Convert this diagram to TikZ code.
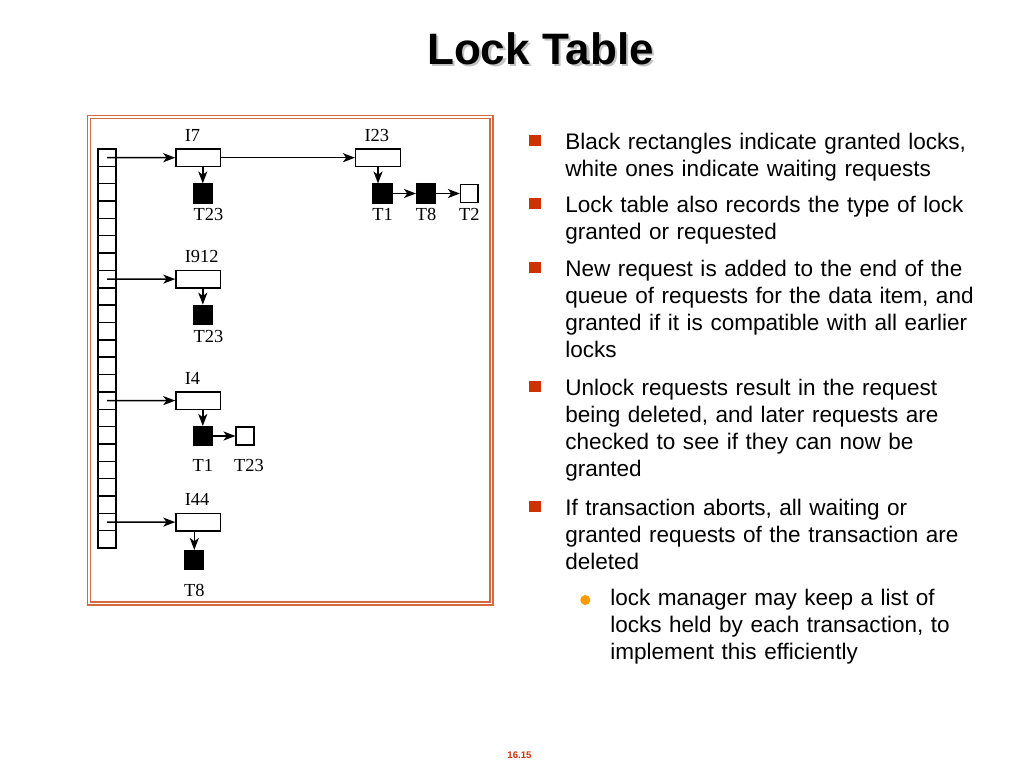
\documentclass[tikz,border=0pt]{standalone}
\usepackage{fontspec}
\setmainfont{Liberation Sans}
\newfontfamily\figserif{Liberation Serif}
\usetikzlibrary{arrows.meta, positioning}
\definecolor{framebrown}{RGB}{212,104,62}
\definecolor{bulletred}{RGB}{204,51,0}
\definecolor{suborange}{RGB}{255,153,0}
\definecolor{shadowgray}{RGB}{195,195,195}

\tikzset{
  cell/.style={draw, line width=1.1pt, minimum width=13.5pt, minimum height=13.01pt, inner sep=0pt, outer sep=0pt},
  itembox/.style={draw, line width=1.1pt, minimum width=33.5pt, minimum height=13pt, inner sep=0pt},
  granted/.style={draw, fill=black, line width=1.1pt, minimum size=14pt, inner sep=0pt},
  waiting/.style={draw, fill=white, line width=1.1pt, minimum size=13.2pt, inner sep=0pt},
  lbl/.style={font=\figserif\fontsize{13.8pt}{15pt}\selectfont, inner sep=0pt, text height=9pt, text depth=0pt},
  ptr/.style={line width=1.1pt, -{Stealth[length=9pt,width=6.8pt,inset=2.5pt]}},
  bullettext/.style={anchor=base west, inner sep=0pt, text width=330pt, align=left, font=\fontsize{16.9pt}{20.25pt}\selectfont},
  sqbullet/.style={fill=bulletred, minimum size=8.3pt, inner sep=0pt},
  dotbullet/.style={circle, fill=suborange, minimum size=7.5pt, inner sep=0pt},
  titlefont/.style={font=\fontsize{33pt}{40pt}\bfseries\selectfont, anchor=base, inner sep=0pt}
}

\begin{document}
\begin{tikzpicture}[x=0.75pt, y=-0.75pt]
  \useasboundingbox (0,0) rectangle (1024,768);
  % title with its shadow
  \node[titlefont, text=shadowgray] (titleshadow) at (543,66.5) {Lock Table};
  \node[titlefont] (title) at (540.5,64) {Lock Table};
  % frame round the figure
  \draw[framebrown, line width=1.3pt] (87.5,115.5) rectangle (493,605);
  \draw[framebrown, line width=1pt] (90.7,118.7) rectangle (490,602);
  % hash column
  \foreach \k in {0,...,22}
    \node[cell] (c\k) at (107, {149+(\k+0.5)*17.35}) {};
  % data items
  \node[itembox] (i7) at (198.3,157.7) {};
  \node[itembox] (i23) at (378,157.7) {};
  \node[itembox] (i912) at (198.3,279.1) {};
  \node[itembox] (i4) at (198.3,400.6) {};
  \node[itembox] (i44) at (198.3,522.1) {};
  \foreach \n/\t in {i7/I7, i23/I23, i912/I912, i4/I4, i44/I44}
    \node[lbl, above right=5pt and 7pt of \n.north west] (\n-lbl) {\t};
  % lock requests
  \node[granted] (g7) at (202.8,193.5) {};
  \node[granted] (g23a) at (382.5,193.5) {};
  \node[granted] (g23b) at (426,193.5) {};
  \node[waiting] (w23) at (469.4,193.5) {};
  \node[granted] (g912) at (202.8,314.7) {};
  \node[granted] (g4) at (202.8,436) {};
  \node[waiting] (w4) at (245,436) {};
  \node[granted] (g44) at (194.3,560) {};
  % transaction names
  \node[lbl, below=3.8pt of g7, xshift=4.2pt] (g7-lbl) {T23};
  \node[lbl, below=3.8pt of g23a] (g23a-lbl) {T1};
  \node[lbl, below=3.8pt of g23b] (g23b-lbl) {T8};
  \node[lbl, below=3.8pt of g23b.south -| w23] (w23-lbl) {T2};
  \node[lbl, below=3.8pt of g912, xshift=4.2pt] (g912-lbl) {T23};
  \node[lbl, below=10pt of g4] (g4-lbl) {T1};
  \node[lbl, below=10pt of g4.south -| w4, xshift=3pt] (w4-lbl) {T23};
  \node[lbl, below=10.5pt of g44] (g44-lbl) {T8};
  % pointers
  \foreach \c/\i in {c0/i7, c7/i912, c14/i4, c21/i44}
    \draw[ptr] (\c.center) -- (\i.west);
  \draw[ptr] (i7) -- (i23);
  \draw[ptr] (g7.north |- i7.south) -- (g7.north);
  \draw[ptr] (i23.south) -- (i23.south |- g23a.north);
  \draw[ptr] (g23a) -- (g23b);
  \draw[ptr] (g23b) -- (w23);
  \draw[ptr] (g912.north |- i912.south) -- (g912.north);
  \draw[ptr] (g4.north |- i4.south) -- (g4.north);
  \draw[ptr] (g4) -- (w4);
  \draw[ptr] (g44.north |- i44.south) -- (g44.north);
  % bullet list
  \node[bullettext] (t1) at (565,149.3) {Black rectangles indicate granted locks,\\ white ones indicate waiting requests};
  \node[bullettext] (t2) at (565,212.3) {Lock table also records the type of lock\\ granted or requested};
  \node[bullettext] (t3) at (565,276) {New request is added to the end of the\\ queue of requests for the data item, and\\ granted if it is compatible with all earlier\\ locks};
  \node[bullettext] (t4) at (565,395) {Unlock requests result in the request\\ being deleted, and later requests are\\ checked to see if they can now be\\ granted};
  \node[bullettext] (t5) at (565,515) {If transaction aborts, all waiting or\\ granted requests of the transaction are\\ deleted};
  \node[bullettext] (t6) at (610,605.7) {lock manager may keep a list of\\ locks held by each transaction, to\\ implement this efficiently};
  \foreach \b/\y in {b1/140.8, b2/203.8, b3/267.5, b4/386.5, b5/506.5}
    \node[sqbullet] (\b) at (535,\y) {};
  \node[dotbullet] (s1) at (585.3,600) {};
  % page number
  \node[font=\fontsize{7.2pt}{9pt}\bfseries\selectfont, text=bulletred, anchor=base, inner sep=0pt] (pagenum) at (519.5,758) {16.15};
\end{tikzpicture}
\end{document}
